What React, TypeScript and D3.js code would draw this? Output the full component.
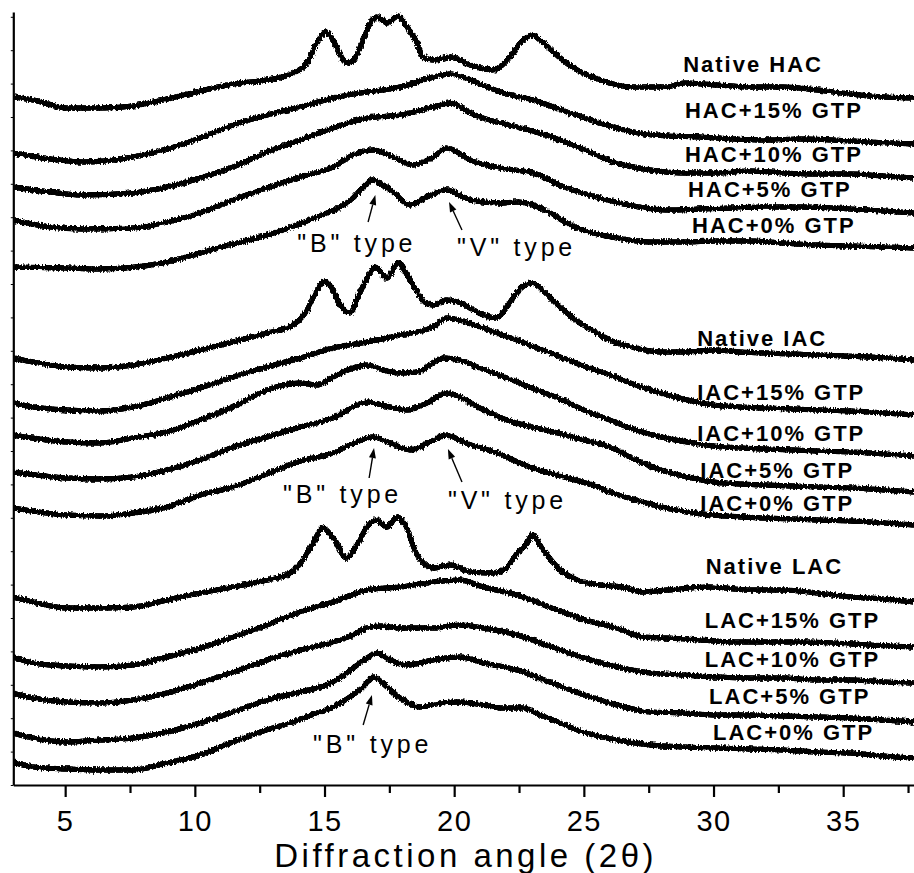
import React, { useEffect, useRef } from 'react';
import * as d3 from 'd3';

type Pt = [number, number];

// 2θ (deg) vs stacked intensity (a.u.)
const nativeHAC: Pt[] = [
  [3.0, 688], [3.76, 685], [5.07, 677], [6.34, 677], [7.62, 679], [8.93, 686], [10.2, 694], [11.47, 701],
  [12.78, 705], [13.79, 712], [14.33, 722], [14.71, 742], [15.06, 753], [15.33, 745], [15.6, 730], [15.91, 722],
  [16.18, 727], [16.49, 745], [16.83, 765], [17.03, 768], [17.41, 762], [17.84, 769], [18.19, 758], [18.57, 742],
  [18.8, 728], [19.19, 725], [19.85, 728], [20.62, 720], [21.5, 715], [22.05, 725], [22.55, 742], [23.0, 750],
  [23.43, 742], [24.09, 727], [24.74, 715], [25.63, 705], [26.9, 698], [28.21, 698], [28.83, 702], [30.14, 700],
  [31.41, 698], [32.68, 698], [33.99, 695], [35.26, 691], [36.54, 688], [37.73, 687],
];
const hac15: Pt[] = [
  [3.0, 632], [4.42, 626], [5.69, 623], [7.62, 628], [8.93, 636], [10.2, 647], [11.47, 660], [12.78, 670],
  [14.06, 678], [15.33, 687], [16.64, 693], [17.92, 698], [19.19, 708], [19.85, 711], [20.62, 705], [21.78, 693],
  [23.04, 685], [24.35, 673], [25.63, 662], [26.9, 653], [28.21, 649], [29.48, 648], [30.76, 646], [32.07, 645],
  [33.34, 646], [34.61, 645], [35.92, 643], [37.73, 641],
];
const hac10: Pt[] = [
  [3.0, 598], [4.42, 593], [5.69, 590], [7.62, 592], [8.93, 598], [10.2, 607], [11.47, 618], [12.78, 633],
  [14.06, 645], [15.33, 657], [16.64, 667], [17.92, 670], [19.19, 678], [19.85, 682], [20.62, 672], [21.12, 667],
  [22.43, 658], [23.76, 648], [25.03, 635], [26.28, 622], [27.56, 615], [28.83, 612], [30.14, 612], [31.41, 614],
  [32.68, 612], [33.99, 611], [35.26, 611], [36.54, 609], [37.73, 607],
];
const hac5: Pt[] = [
  [3.0, 565], [4.42, 558], [5.69, 556], [7.62, 557], [8.93, 563], [10.2, 572], [11.47, 585], [12.78, 597],
  [14.06, 608], [15.33, 618], [16.1, 630], [16.87, 635], [17.64, 628], [18.41, 620], [19.19, 628], [19.72, 637],
  [20.62, 625], [21.78, 617], [23.04, 612], [24.35, 597], [25.63, 587], [26.9, 579], [28.21, 575], [29.48, 576],
  [30.76, 577], [32.07, 578], [33.34, 578], [34.61, 577], [35.92, 575], [37.73, 572],
];
const hac0: Pt[] = [
  [3.0, 518], [5.07, 517], [6.34, 516], [8.93, 523], [10.2, 532], [10.85, 537], [12.12, 545], [13.4, 555],
  [14.71, 568], [15.6, 578], [16.1, 587], [16.49, 598], [16.83, 605], [17.26, 600], [17.64, 593], [18.3, 580],
  [18.95, 588], [19.72, 595], [20.62, 585], [21.78, 582], [22.43, 583], [23.04, 580], [23.7, 572], [24.35, 562],
  [24.97, 555], [26.28, 547], [27.56, 543], [28.83, 543], [30.14, 544], [31.41, 544], [32.68, 542], [33.99, 540],
  [35.26, 539], [36.54, 538], [37.73, 537],
];

const nativeIAC: Pt[] = [
  [3.0, 427], [3.76, 423], [5.07, 418], [6.34, 417], [7.62, 420], [8.93, 427], [10.2, 435], [11.47, 443],
  [12.78, 452], [13.79, 460], [14.33, 475], [14.71, 495], [15.02, 504], [15.33, 495], [15.6, 480], [15.98, 472],
  [16.29, 488], [16.64, 507], [16.95, 518], [17.41, 507], [17.84, 522], [18.19, 510], [18.57, 493], [18.88, 482],
  [19.19, 480], [19.72, 485], [20.22, 482], [20.6, 477], [21.23, 469], [21.61, 467], [22.0, 477], [22.5, 495],
  [23.0, 502], [23.39, 495], [24.0, 480], [24.58, 467], [25.32, 455], [26.0, 445], [27.0, 437], [27.98, 433],
  [28.98, 433], [29.98, 435], [30.99, 433], [31.99, 432], [32.99, 431], [33.99, 430], [35.0, 429], [36.0, 428],
  [37.73, 425],
];
const iac15: Pt[] = [
  [3.0, 382], [3.76, 378], [5.07, 375], [6.34, 374], [7.62, 378], [8.93, 387], [10.2, 397], [11.47, 408],
  [12.78, 418], [14.06, 427], [15.33, 437], [16.64, 443], [17.92, 450], [19.19, 458], [19.72, 467], [20.22, 465],
  [20.99, 458], [21.99, 449], [23.0, 439], [24.0, 429], [25.0, 419], [26.0, 410], [27.0, 400], [27.98, 392],
  [28.98, 385], [29.98, 380], [31.99, 377], [33.99, 375], [36.0, 373], [37.73, 370],
];
const iac10: Pt[] = [
  [3.0, 350], [5.07, 343], [6.34, 342], [7.62, 347], [8.93, 353], [10.2, 365], [11.47, 378], [12.78, 395],
  [14.06, 402], [14.71, 400], [15.33, 408], [16.1, 417], [16.64, 420], [17.26, 415], [17.92, 412], [18.57, 413],
  [19.59, 427], [20.22, 425], [20.99, 417], [22.03, 407], [23.0, 397], [24.0, 387], [25.0, 375], [26.0, 365],
  [27.0, 355], [27.98, 348], [28.98, 343], [29.98, 339], [31.99, 336], [33.99, 334], [36.0, 332], [37.73, 329],
];
const iac5: Pt[] = [
  [3.0, 313], [5.07, 307], [6.34, 306], [7.62, 308], [8.93, 315], [10.2, 325], [11.47, 338], [12.78, 348],
  [14.06, 358], [15.33, 367], [16.64, 383], [17.53, 378], [18.19, 375], [18.95, 382], [19.72, 392], [20.22, 388],
  [20.99, 377], [22.03, 365], [23.0, 358], [24.0, 352], [25.0, 345], [26.0, 338], [27.0, 325], [27.98, 315],
  [28.98, 308], [29.98, 303], [31.99, 300], [33.99, 298], [36.0, 296], [37.73, 293],
];
const iac0: Pt[] = [
  [3.0, 277], [5.07, 270], [6.34, 269], [7.62, 272], [8.93, 278], [10.2, 290], [11.47, 298], [12.78, 311],
  [14.06, 324], [15.33, 332], [15.98, 340], [16.87, 348], [17.53, 342], [18.3, 335], [19.06, 343], [19.72, 350],
  [20.34, 343], [21.65, 332], [22.92, 318], [24.24, 308], [25.55, 298], [26.0, 293], [27.0, 285], [27.98, 278],
  [28.98, 273], [29.98, 270], [31.99, 267], [33.99, 265], [36.0, 263], [37.73, 260],
];

const nativeLAC: Pt[] = [
  [3.0, 188], [3.76, 183], [5.07, 177], [6.34, 177], [7.62, 178], [8.93, 185], [10.2, 192], [11.47, 198],
  [12.78, 205], [13.66, 212], [14.17, 225], [14.56, 242], [14.94, 257], [15.33, 247], [15.86, 227], [16.25, 240],
  [16.64, 258], [16.98, 265], [17.41, 258], [17.8, 268], [18.14, 258], [18.57, 230], [19.19, 217], [19.85, 220],
  [20.62, 213], [21.5, 212], [22.05, 218], [22.43, 232], [22.82, 242], [23.0, 250], [23.43, 235], [24.09, 215],
  [24.74, 205], [25.63, 200], [26.51, 198], [27.28, 193], [28.21, 195], [29.87, 198], [31.41, 195], [32.68, 195],
  [33.99, 192], [35.26, 188], [36.54, 186], [37.73, 183],
];
const lac15: Pt[] = [
  [3.0, 128], [3.76, 122], [5.07, 119], [6.34, 118], [7.62, 120], [8.93, 128], [10.2, 137], [11.47, 148],
  [12.78, 160], [14.06, 173], [15.33, 183], [16.64, 195], [17.92, 198], [19.19, 203], [20.22, 205], [21.12, 198],
  [22.43, 190], [23.76, 177], [25.03, 165], [26.28, 157], [27.28, 148], [28.21, 147], [29.48, 145], [30.76, 143],
  [32.07, 143], [33.34, 143], [34.61, 142], [35.92, 140], [37.73, 138],
];
const lac10: Pt[] = [
  [3.0, 92], [3.76, 87], [5.07, 83], [6.34, 82], [7.62, 85], [8.93, 92], [10.2, 102], [11.47, 113],
  [12.78, 125], [14.06, 135], [15.33, 143], [16.1, 150], [16.64, 157], [17.15, 159], [17.92, 157], [19.19, 157],
  [20.22, 160], [21.12, 157], [22.43, 150], [23.76, 138], [25.03, 127], [26.28, 118], [27.56, 112], [28.83, 110],
  [30.14, 108], [31.41, 107], [32.68, 107], [33.99, 105], [35.26, 105], [36.54, 103], [37.73, 102],
];
const lac5: Pt[] = [
  [3.0, 52], [3.76, 47], [5.07, 43], [6.34, 45], [7.62, 47], [8.93, 53], [10.2, 62], [11.47, 73],
  [12.78, 85], [14.06, 93], [15.33, 103], [16.1, 117], [16.64, 127], [17.03, 132], [17.53, 125], [18.19, 120],
  [19.19, 125], [20.22, 128], [21.12, 122], [22.43, 115], [23.76, 102], [25.03, 90], [26.28, 80], [27.56, 73],
  [28.83, 72], [30.14, 70], [31.41, 70], [32.68, 69], [33.99, 68], [35.26, 67], [36.54, 65], [37.73, 63],
];
const lac0: Pt[] = [
  [3.0, 23], [3.76, 18], [5.07, 16], [6.34, 15], [7.62, 15], [8.93, 22], [10.2, 30], [11.47, 43],
  [12.78, 55], [13.66, 62], [14.71, 72], [15.33, 78], [15.98, 88], [16.49, 98], [16.87, 108], [17.41, 98],
  [17.92, 87], [18.69, 78], [19.46, 82], [20.22, 83], [21.12, 80], [21.78, 77], [22.67, 77], [23.32, 70],
  [24.09, 62], [24.97, 53], [26.28, 45], [27.56, 40], [28.83, 38], [30.14, 37], [31.41, 36], [32.68, 35],
  [33.99, 33], [35.26, 32], [36.54, 29], [37.73, 27],
];

const seriesNames = [
  'Native HAC', 'HAC+15% GTP', 'HAC+10% GTP', 'HAC+5% GTP', 'HAC+0% GTP',
  'Native IAC', 'IAC+15% GTP', 'IAC+10% GTP', 'IAC+5% GTP', 'IAC+0% GTP',
  'Native LAC', 'LAC+15% GTP', 'LAC+10% GTP', 'LAC+5% GTP', 'LAC+0% GTP',
];
const seriesData = [
  nativeHAC, hac15, hac10, hac5, hac0,
  nativeIAC, iac15, iac10, iac5, iac0,
  nativeLAC, lac15, lac10, lac5, lac0,
];

const xMajorTicks = [5, 10, 15, 20, 25, 30, 35];
const xMinorTicks = [7.5, 12.5, 17.5, 22.5, 27.5, 32.5, 37.5];

// where each series name sits (left end of baseline), in angle / intensity
const labelAnchors: Pt[] = [
  [28.83, 713], [28.9, 667], [28.9, 623], [29.02, 588], [29.17, 552],
  [29.37, 439], [29.37, 385], [29.37, 344], [29.49, 307], [29.49, 274],
  [29.7, 211], [29.66, 157], [29.66, 118], [29.83, 81], [29.98, 45],
];

// "B"/"V" type call-outs: text anchor, arrow tail, arrow tip
const callouts = [
  { text: '"B" type', at: [13.95, 533], from: [16.68, 563], to: [16.96, 590] },
  { text: '"V" type', at: [20.11, 529], from: [20.3, 555], to: [19.8, 583] },
  { text: '"B" type', at: [13.4, 282], from: [16.72, 307], to: [16.91, 337] },
  { text: '"V" type', at: [19.76, 276], from: [20.3, 303], to: [19.76, 336] },
  { text: '"B" type', at: [14.56, 32], from: [16.49, 60], to: [16.83, 90] },
];

const W = 914;
const H = 873;
const margin = { top: 12, right: 0, bottom: 88, left: 13.3 };
const FONT = "'Liberation Sans', Arial, Helvetica, sans-serif";

export default function App() {
  const svgRef = useRef<SVGSVGElement>(null);

  useEffect(() => {
    if (!svgRef.current) return;
    const svg = d3.select(svgRef.current);
    svg.selectAll('*').remove();

    const x = d3.scaleLinear().domain([3, 37.73]).range([margin.left, W - margin.right]);
    const y = d3.scaleLinear().domain([0, 773]).range([H - margin.bottom, margin.top]);

    // jagged, noisy look of the diffractograms
    const defs = svg.append('defs');
    const f = defs.append('filter')
      .attr('id', 'rough')
      .attr('filterUnits', 'userSpaceOnUse')
      .attr('x', 0).attr('y', 0).attr('width', W).attr('height', H);
    f.append('feTurbulence')
      .attr('type', 'fractalNoise')
      .attr('baseFrequency', '0.6 0.25')
      .attr('numOctaves', 2)
      .attr('seed', 7)
      .attr('result', 'noise');
    f.append('feDisplacementMap')
      .attr('in', 'SourceGraphic')
      .attr('in2', 'noise')
      .attr('scale', 4.5)
      .attr('xChannelSelector', 'R')
      .attr('yChannelSelector', 'G')
      .attr('result', 'disp');
    f.append('feComponentTransfer')
      .attr('in', 'disp')
      .append('feFuncA')
      .attr('type', 'table')
      .attr('tableValues', '0 0.8 1 1');

    const clip = defs.append('clipPath').attr('id', 'plot');
    clip.append('rect').attr('x', margin.left).attr('y', 0).attr('width', W - margin.left).attr('height', H - margin.bottom);

    const line = d3.line<Pt>()
      .x(d => x(d[0]))
      .y(d => y(d[1]))
      .curve(d3.curveMonotoneX);

    svg.append('g')
      .attr('clip-path', 'url(#plot)')
      .append('g')
      .attr('filter', 'url(#rough)')
      .selectAll('path')
      .data(seriesData)
      .join('path')
      .attr('fill', 'none')
      .attr('stroke', '#000')
      .attr('stroke-width', 5)
      .attr('stroke-linejoin', 'round')
      .attr('d', d => line(d));

    // x axis
    const xAxis = svg.append('g')
      .attr('transform', `translate(0,${H - margin.bottom})`)
      .call(d3.axisBottom(x).tickValues(xMajorTicks).tickSize(12).tickSizeOuter(0).tickFormat(d3.format('d')));
    xAxis.select('.domain').attr('stroke-width', 2.2);
    xAxis.selectAll('.tick line').attr('stroke-width', 2.2);
    xAxis.selectAll('.tick text')
      .attr('y', 46)
      .attr('dy', null)
      .attr('fill', '#000')
      .style('font-family', FONT)
      .style('font-size', '29px')
      .style('letter-spacing', '1.5px');

    svg.append('g')
      .attr('transform', `translate(0,${H - margin.bottom})`)
      .call(d3.axisBottom(x).tickValues(xMinorTicks).tickSize(8).tickSizeOuter(0).tickFormat(() => ''))
      .call(g => g.select('.domain').remove())
      .call(g => g.selectAll('.tick line').attr('stroke-width', 2.2));

    // y axis (unlabelled)
    const yAxis = svg.append('g')
      .attr('transform', `translate(${margin.left},0)`)
      .call(d3.axisLeft(y).tickValues(d3.range(0, 773, 33.4)).tickSize(2.5).tickSizeOuter(0).tickFormat(() => ''));
    yAxis.select('.domain').attr('stroke-width', 2.2);

    svg.append('text')
      .attr('x', (margin.left + W) / 2 + 2)
      .attr('y', 867)
      .attr('text-anchor', 'middle')
      .style('font-family', FONT)
      .style('font-size', '33px')
      .style('letter-spacing', '3.5px')
      .text('Diffraction angle (2θ)');

    // series labels
    svg.append('g')
      .selectAll('text')
      .data(seriesNames)
      .join('text')
      .attr('x', (d, i) => x(labelAnchors[i][0]))
      .attr('y', (d, i) => y(labelAnchors[i][1]))
      .style('font-family', FONT)
      .style('font-size', '22px')
      .style('font-weight', 'bold')
      .style('letter-spacing', '2px')
      .text(d => d);

    // call-outs
    const co = svg.append('g');
    callouts.forEach(c => {
      co.append('text')
        .attr('x', x(c.at[0]))
        .attr('y', y(c.at[1]))
        .style('font-family', FONT)
        .style('font-size', '25px')
        .style('letter-spacing', '3.8px')
        .text(c.text);
      const x0 = x(c.from[0]), y0 = y(c.from[1]);
      const x1 = x(c.to[0]), y1 = y(c.to[1]);
      const ang = Math.atan2(y1 - y0, x1 - x0);
      const len = 10, half = 3.5;
      const bx = x1 - len * Math.cos(ang), by = y1 - len * Math.sin(ang);
      co.append('line')
        .attr('x1', x0).attr('y1', y0).attr('x2', bx).attr('y2', by)
        .attr('stroke', '#000').attr('stroke-width', 1.4);
      co.append('path')
        .attr('d', `M${x1},${y1}L${bx - half * Math.sin(ang)},${by + half * Math.cos(ang)}L${bx + half * Math.sin(ang)},${by - half * Math.cos(ang)}Z`)
        .attr('fill', '#000');
    });
  }, []);

  return (
    <div style={{ position: 'absolute', left: 0, top: 0, background: '#fff' }}>
      <svg ref={svgRef} width={W} height={H} style={{ display: 'block' }} />
    </div>
  );
}
